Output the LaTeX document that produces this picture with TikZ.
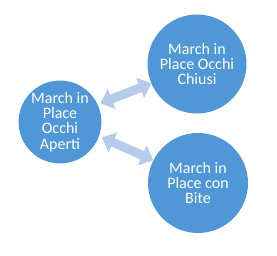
\documentclass[tikz,border=0pt]{standalone}
\usepackage{fontspec}
\setmainfont{Carlito}
\definecolor{CircBlue}{HTML}{4F97D7}
\definecolor{ArrBlue}{HTML}{B4CBEA}
\usetikzlibrary{arrows.meta}

\begin{document}
\begin{tikzpicture}[x=1pt,y=-1pt,
  bubble/.style={circle,fill=CircBlue,text=white,inner sep=0pt,align=center,
    font=\fontsize{16}{15.4}\selectfont},
  link/.style={ArrBlue,line width=9pt,shorten <=3pt,
    {Triangle[width=21pt,length=12pt]}-{Triangle[width=21pt,length=12pt]}}]
  \useasboundingbox (0,0) rectangle (277,256);
  \node[bubble,minimum size=82pt] (aperti) at (60,122) {March in\\Place\\Occhi\\Aperti};
  \node[bubble,minimum size=99pt] (chiusi) at (197,64) {March in\\Place Occhi\\Chiusi};
  \node[bubble,minimum size=100pt] (bite) at (198,183) {March in\\Place con\\Bite};
  \draw[link] (aperti.25) -- (chiusi.203);
  \draw[link] (aperti.-20) -- (bite.153);
\end{tikzpicture}
\end{document}
